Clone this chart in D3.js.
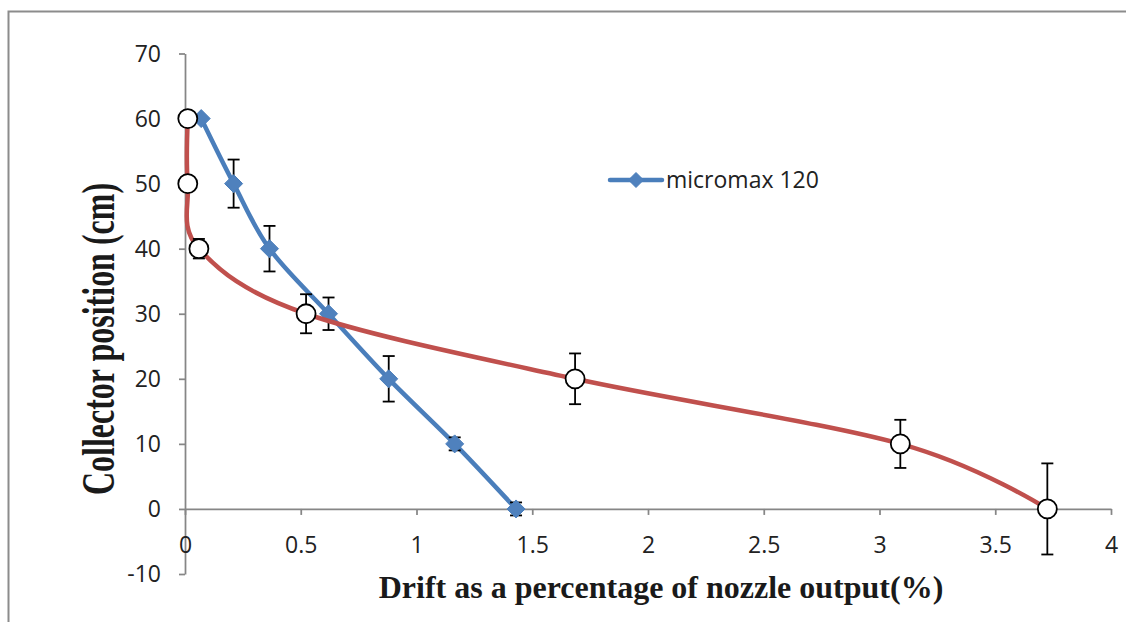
<!DOCTYPE html>
<html>
<head>
<meta charset="utf-8">
<script src="https://cdn.jsdelivr.net/npm/d3@7"></script>
<style>
  html, body { margin: 0; padding: 0; background: #fff; }
  svg { display: block; }
</style>
</head>
<body>
<svg id="chart" width="1126" height="622"></svg>
<script>
// ---- data ----
const xTicks = [0, 0.5, 1, 1.5, 2, 2.5, 3, 3.5, 4];
const yTicks = [-10, 0, 10, 20, 30, 40, 50, 60, 70];

const blueName = "micromax 120";
const blueX = [0.07, 0.21, 0.365, 0.62, 0.88, 1.165, 1.43];
const blueY = [60, 50, 40, 30, 20, 10, 0];
const blueErr = [0, 3.7, 3.5, 2.5, 3.5, 1.0, 1.0];

const redX = [0.012, 0.012, 0.06, 0.523, 1.685, 3.09, 3.725];
const redY = [60, 50, 40, 30, 20, 10, 0];
const redErr = [0, 0, 1.5, 3.0, 3.9, 3.7, 7.0];

const xTitle = "Drift as a percentage of nozzle output(%)";
const yTitle = "Collector position (cm)";

// ---- setup ----
const svg = d3.select("#chart");
const x = d3.scaleLinear().domain([0, 4]).range([185, 1111]);
const y = d3.scaleLinear().domain([-10, 70]).range([574, 53.5]);

const axisColor = "#868686";
const textColor = "#222222";
const blue = "#4A7EBB";
const red = "#C0504D";

// outer frame
svg.append("rect")
  .attr("x", 8.5).attr("y", 11.5)
  .attr("width", 1400).attr("height", 900)
  .attr("fill", "none").attr("stroke", "#8c8c8c").attr("stroke-width", 2);

// y axis
const yAxis = svg.append("g")
  .attr("transform", `translate(${x(0)},0)`)
  .call(d3.axisLeft(y).tickValues(yTicks).tickSize(6).tickSizeOuter(0).tickPadding(18)
        .tickFormat(d => String(d)));
// x axis at y = 0
const xAxis = svg.append("g")
  .attr("transform", `translate(0,${y(0)})`)
  .call(d3.axisBottom(x).tickValues(xTicks).tickSize(6).tickSizeOuter(0)
        .tickFormat(d => String(d)));

[yAxis, xAxis].forEach(g => {
  g.select(".domain").attr("stroke", axisColor).attr("stroke-width", 1.75);
  g.selectAll(".tick line").attr("stroke", axisColor).attr("stroke-width", 1.75);
  g.selectAll(".tick text")
    .attr("fill", textColor)
    .style("font-family", "'Open Sans', sans-serif")
    .style("font-size", "23px");
});
xAxis.selectAll(".tick text").attr("y", 44).attr("dy", null);
yAxis.selectAll(".tick text").attr("dy", "0.34em");

// line generator
const line = d3.line()
  .x(d => x(d[0])).y(d => y(d[1]))
  .curve(d3.curveCardinal.tension(0));

const blueData = blueX.map((v, i) => [v, blueY[i], blueErr[i]]);
const redData = redX.map((v, i) => [v, redY[i], redErr[i]]);

function errorBars(g, data) {
  const eb = g.append("g").selectAll("g").data(data.filter(d => d[2] > 0)).join("g");
  eb.append("line")
    .attr("x1", d => x(d[0])).attr("x2", d => x(d[0]))
    .attr("y1", d => y(d[1] + d[2])).attr("y2", d => y(d[1] - d[2]));
  eb.append("line")
    .attr("x1", d => x(d[0]) - 6).attr("x2", d => x(d[0]) + 6)
    .attr("y1", d => y(d[1] + d[2])).attr("y2", d => y(d[1] + d[2]));
  eb.append("line")
    .attr("x1", d => x(d[0]) - 6).attr("x2", d => x(d[0]) + 6)
    .attr("y1", d => y(d[1] - d[2])).attr("y2", d => y(d[1] - d[2]));
  eb.selectAll("line").attr("stroke", "#000").attr("stroke-width", 1.8);
}

const diamond = (cx, cy, r) => `M${cx},${cy - r}L${cx + r},${cy}L${cx},${cy + r}L${cx - r},${cy}Z`;

// blue series
const gB = svg.append("g");
gB.append("path").datum(blueData).attr("d", line)
  .attr("fill", "none").attr("stroke", blue).attr("stroke-width", 4.5)
  .attr("stroke-linejoin", "round").attr("stroke-linecap", "round");
errorBars(gB, blueData);
gB.append("g").selectAll("path").data(blueData).join("path")
  .attr("d", d => diamond(x(d[0]), y(d[1]), 9))
  .attr("fill", "#4F81BD").attr("stroke", blue).attr("stroke-width", 1);

// red series
const gR = svg.append("g");
gR.append("path").datum(redData).attr("d", line)
  .attr("fill", "none").attr("stroke", red).attr("stroke-width", 4.5)
  .attr("stroke-linejoin", "round").attr("stroke-linecap", "round");
errorBars(gR, redData);
gR.append("g").selectAll("circle").data(redData).join("circle")
  .attr("cx", d => x(d[0])).attr("cy", d => y(d[1])).attr("r", 9.5)
  .attr("fill", "#fff").attr("stroke", "#000").attr("stroke-width", 1.8);

// legend
const lg = svg.append("g");
lg.append("line").attr("x1", 610).attr("x2", 662).attr("y1", 180).attr("y2", 180)
  .attr("stroke", blue).attr("stroke-width", 4.5).attr("stroke-linecap", "round");
lg.append("path").attr("d", diamond(636, 180, 7.5))
  .attr("fill", "#4F81BD").attr("stroke", blue).attr("stroke-width", 1);
lg.append("text").attr("x", 666).attr("y", 188)
  .attr("fill", textColor)
  .style("font-family", "'Open Sans', sans-serif").style("font-size", "23px")
  .text(blueName);

// axis titles
svg.append("text")
  .attr("x", 661).attr("y", 598)
  .attr("text-anchor", "middle")
  .attr("fill", "#1a1a1a")
  .style("font-family", "'Liberation Serif', 'Times New Roman', serif")
  .style("font-weight", "bold").style("font-size", "32px")
  .text(xTitle);

svg.append("text")
  .attr("transform", "translate(114,339) rotate(-90) scale(1,1.45)")
  .attr("text-anchor", "middle")
  .attr("fill", "#1a1a1a")
  .style("font-family", "'Liberation Serif', 'Times New Roman', serif")
  .style("font-weight", "bold").style("font-size", "32px")
  .text(yTitle);
</script>
</body>
</html>
